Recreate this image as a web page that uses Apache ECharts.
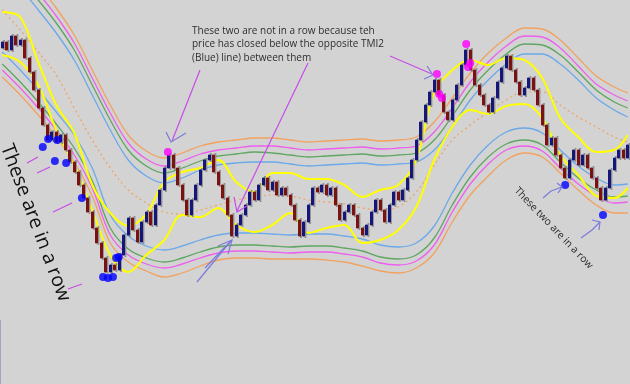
<!DOCTYPE html>
<html><head><meta charset="utf-8">
<script src="https://cdn.jsdelivr.net/npm/echarts@6/dist/echarts.min.js"></script>
<style>html,body{margin:0;padding:0;background:#d3d3d3}#c{width:630px;height:384px}</style>
</head><body><div id="c"></div>
<script>
// closing prices of each bar (price units)
const closes = [358,350,364,355,360,342,328,310,292,275,
260,268,258,265,250,238,228,215,202,188,
172,157,142,128,135,130,145,165,182,170,
158,178,188,175,195,210,232,245,232,215,
200,185,200,215,230,240,245,228,215,202,
185,164,175,185,195,208,200,215,222,210,
218,205,212,205,195,180,164,178,195,212,
208,215,205,212,195,180,188,195,185,172,
165,175,188,200,190,178,195,208,200,210,
222,240,260,278,295,308,320,305,288,280,
300,315,335,350,330,315,305,295,288,302,
318,332,344,330,318,305,312,322,310,295,
275,255,262,245,232,222,240,250,235,245,
232,222,212,200,212,230,242,250,242,255];
const firstOpen = 352;
// bar indices where indicator lines are sampled
const lineIdx = [0,4,8,12,16,20,24,28,32,36,40,44,48,52,56,60,64,68,72,76,80,84,88,92,96,100,104,108,112,116,120,124,128,132,136,139];
const upperOrange = [455,437,415,392,365,330,295,265,249,242,247,254,258,260,262,262,260,258,259,260,261,259,260,263,278,302,327,347,362,372,371,360,342,324,313,307];
const upperPink   = [447,429,407,384,357,322,287,257,241,234,239,246,250,252,254,254,252,250,251,252,253,251,252,254,268,292,318,338,354,364,363,352,334,316,305,299];
const upperGreen  = [440,422,400,377,350,315,280,250,234,227,232,239,244,246,248,247,245,243,244,245,246,244,245,247,260,284,310,330,346,356,355,345,328,310,298,292];
const upperBlue   = [430,412,390,367,340,305,270,240,224,217,222,230,235,237,238,238,236,234,235,236,237,235,236,238,250,273,300,320,336,346,346,336,320,302,290,283];
const midLine     = [390,370,348,325,292,260,232,210,197,188,186,190,195,200,203,205,204,200,198,196,192,190,193,208,235,260,275,288,300,308,308,295,283,273,263,258];
const lowerBlue   = [348,330,310,288,265,232,185,164,154,150,154,160,165,167,167,166,165,166,166,164,161,155,153,157,174,207,235,255,268,272,267,250,234,222,215,216];
const lowerGreen  = [336,318,298,276,252,219,172,151,142,138,142,148,153,155,155,154,153,154,154,152,149,143,141,145,162,195,223,243,256,260,255,238,222,210,203,204];
const lowerPink   = [330,312,292,270,245,212,165,145,136,132,136,142,147,149,149,148,147,148,148,146,143,137,135,139,155,188,216,236,250,254,249,232,216,204,197,198];
const lowerOrange = [323,305,285,263,238,204,157,138,129,123,127,134,140,142,142,141,141,141,140,138,134,129,127,132,147,178,205,224,240,247,243,227,210,195,187,187];
const upperYellow = [388,383,338,295,267,215,187,174,186,218,228,232,240,218,208,227,227,221,221,215,203,210,215,240,308,330,340,335,342,340,322,282,263,248,250,265];
const lowerYellow = [345,338,315,270,235,190,145,128,145,160,185,183,192,175,168,175,187,167,172,175,157,160,170,193,240,273,290,286,294,296,282,245,225,204,202,212];
// signal dots [bar index, price]
const blueDots = [[9,253],[10.2,261],[11.7,239],[12.2,260],[14.2,237],[17.7,202],[22.4,123],[23.5,122],[24.6,123],[25.3,142],[25.9,143],[125.1,215],[133.5,185]];
const pinkDots = [[36.8,248],[96.6,326],[97.1,306],[97.7,302],[103.1,356],[103.5,333],[104,337]];

const cats = closes.map((_, i) => i);
const candles = closes.map((c, i) => {
  const o = i === 0 ? firstOpen : closes[i - 1];
  return [o, c, Math.min(o, c), Math.max(o, c)];
});
const shadowData = closes.map((c, i) => [i, i === 0 ? firstOpen : closes[i - 1], c]);
const zip = arr => lineIdx.map((x, k) => [x, arr[k]]);
function ln(arr, color, w, type) {
  return { type: 'line', xAxisIndex: 1, data: zip(arr), symbol: 'none', smooth: 0.35,
    lineStyle: { color: color, width: w, type: type || 'solid' }, z: 2, silent: true };
}
const OR = '#f2a25e', PK = '#ee5fee', GR = '#5fa661', BL = '#6aa9ea', YE = '#ffff00';

const chart = echarts.init(document.getElementById('c'), null, { renderer: 'canvas' });
const mag = '#c94be8', vio = '#7b7bdc';
chart.setOption({
  backgroundColor: '#d3d3d3',
  animation: false,
  grid: { left: 0, right: 0, top: 0, bottom: 0 },
  xAxis: [
    { type: 'category', data: cats, show: false, boundaryGap: true },
    { type: 'value', min: -0.5, max: 139.5, show: false }
  ],
  yAxis: { type: 'value', min: 16, max: 400, show: false },
  series: [
    ln(upperOrange, OR, 1.3), ln(upperPink, PK, 1.3), ln(upperGreen, GR, 1.3), ln(upperBlue, BL, 1.3),
    ln(midLine, OR, 1.2, [2, 3]),
    ln(lowerBlue, BL, 1.3), ln(lowerGreen, GR, 1.3), ln(lowerPink, PK, 1.3), ln(lowerOrange, OR, 1.3),
    ln(upperYellow, YE, 2), ln(lowerYellow, YE, 2),
    { type: 'custom', xAxisIndex: 0, data: shadowData, z: 3, silent: true,
      renderItem: function (params, api) {
        const a = api.coord([api.value(0), api.value(1)]);
        const b = api.coord([api.value(0), api.value(2)]);
        const top = Math.min(a[1], b[1]) - 2, h = Math.abs(a[1] - b[1]) + 4;
        return { type: 'rect', shape: { x: a[0] + 0.8, y: top, width: 1.8, height: h }, style: { fill: '#8e8e8e' } };
      } },
    { type: 'candlestick', data: candles, barWidth: 2.4, z: 4,
      itemStyle: { color: '#15157a', color0: '#7a1212', borderColor: '#15157a', borderColor0: '#7a1212', borderWidth: 1 } },
    { type: 'scatter', xAxisIndex: 1, data: blueDots, symbolSize: 8, itemStyle: { color: '#0000ff' }, z: 5 },
    { type: 'scatter', xAxisIndex: 1, data: pinkDots, symbolSize: 8, itemStyle: { color: '#ff00ff' }, z: 5 }
  ],
  graphic: [
    { type: 'line', z: 10, shape: { x1: 0.5, y1: 320, x2: 0.5, y2: 384 }, style: { stroke: '#9fa8b8', lineWidth: 1 } },
    { type: 'text', x: 192, y: 24, z: 10, style: { text: 'These two are not in a row because teh\nprice has closed below the opposite TMI2\n(Blue) line) between them', font: '10px "Open Sans"', fill: '#2e2e2e', lineHeight: 13.5 } },
    { type: 'text', x: 6, y: 145, rotation: -1.2095, z: 10, style: { text: 'These are in a row', font: '19.5px "Open Sans"', fill: '#111', textVerticalAlign: 'middle' } },
    { type: 'text', x: 516, y: 189, rotation: -0.805, z: 10, style: { text: 'These two are in a row', font: '10.3px "Open Sans"', fill: '#2a2a2a', textVerticalAlign: 'middle' } },
    // annotation strokes
    { type: 'polyline', z: 9, shape: { points: [[200, 70], [172, 141]] }, style: { stroke: mag, lineWidth: 1.2, fill: null } },
    { type: 'polyline', z: 9, shape: { points: [[166, 132], [171, 142], [186, 133]] }, style: { stroke: vio, lineWidth: 1.2, fill: null } },
    { type: 'polyline', z: 9, shape: { points: [[308, 63], [237, 211]] }, style: { stroke: mag, lineWidth: 1.2, fill: null } },
    { type: 'polyline', z: 9, shape: { points: [[234, 197], [237, 212], [247, 206]] }, style: { stroke: mag, lineWidth: 1.2, fill: null } },
    { type: 'polyline', z: 9, shape: { points: [[197, 282], [230, 242]] }, style: { stroke: vio, lineWidth: 1.2, fill: null } },
    { type: 'polyline', z: 9, shape: { points: [[205, 268], [222, 250], [232, 240]] }, style: { stroke: vio, lineWidth: 1.2, fill: null, smooth: 0.4 } },
    { type: 'polyline', z: 9, shape: { points: [[218, 246], [232, 240], [228, 254]] }, style: { stroke: vio, lineWidth: 1.2, fill: null } },
    { type: 'polyline', z: 9, shape: { points: [[390, 56], [432, 74]] }, style: { stroke: mag, lineWidth: 1.2, fill: null } },
    { type: 'polyline', z: 9, shape: { points: [[427, 66], [433, 75], [424, 79]] }, style: { stroke: vio, lineWidth: 1.2, fill: null } },
    { type: 'polyline', z: 9, shape: { points: [[27, 163], [38, 157]] }, style: { stroke: mag, lineWidth: 1.2, fill: null } },
    { type: 'polyline', z: 9, shape: { points: [[37, 173], [50, 167]] }, style: { stroke: mag, lineWidth: 1.2, fill: null } },
    { type: 'polyline', z: 9, shape: { points: [[53, 212], [72, 203]] }, style: { stroke: mag, lineWidth: 1.2, fill: null } },
    { type: 'polyline', z: 9, shape: { points: [[68, 289], [82, 284]] }, style: { stroke: mag, lineWidth: 1.2, fill: null } },
    { type: 'polyline', z: 9, shape: { points: [[543, 198], [551, 191], [562, 187]] }, style: { stroke: vio, lineWidth: 1.2, fill: null, smooth: 0.4 } },
    { type: 'polyline', z: 9, shape: { points: [[557, 183], [562, 187], [558, 193]] }, style: { stroke: vio, lineWidth: 1.2, fill: null } },
    { type: 'polyline', z: 9, shape: { points: [[581, 238], [592, 230], [600, 222]] }, style: { stroke: vio, lineWidth: 1.2, fill: null, smooth: 0.4 } },
    { type: 'polyline', z: 9, shape: { points: [[592, 220], [600, 222], [599, 230]] }, style: { stroke: vio, lineWidth: 1.2, fill: null } }
  ]
});
</script></body></html>
